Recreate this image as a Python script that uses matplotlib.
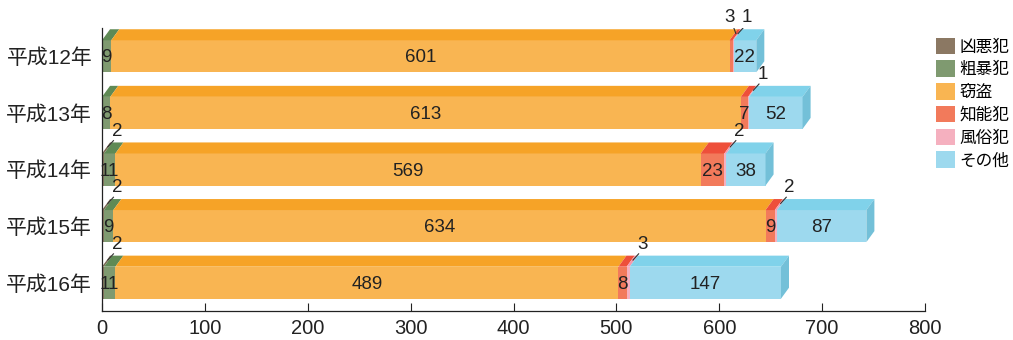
import matplotlib
matplotlib.use("Agg")
import matplotlib.pyplot as plt
from matplotlib.patches import Polygon, Patch

plt.rcParams['font.family'] = ['Liberation Sans', 'Noto Sans CJK JP']

# data
years = ['平成12年', '平成13年', '平成14年', '平成15年', '平成16年']
crimes = ['凶悪犯', '粗暴犯', '窃盗', '知能犯', '風俗犯', 'その他']
kyoaku = [0, 0, 2, 2, 2]
sobo = [9, 8, 11, 9, 11]
settou = [601, 613, 569, 634, 489]
chino = [3, 7, 23, 9, 8]
fuzoku = [1, 1, 2, 2, 3]
sonota = [22, 52, 38, 87, 147]
series = [kyoaku, sobo, settou, chino, fuzoku, sonota]

front_cols = ['#8b7863', '#7f9a70', '#f9b552', '#f27a5b', '#f5b0bf', '#9dd9ee']
top_cols = ['#7a6a55', '#5f8a55', '#f6a327', '#ee4f3a', '#f39aae', '#80d2ea']
side_col = '#73c0d8'

# 3d look
h = 0.566
dx = 7.8
dy = 0.195

fig = plt.figure(figsize=(10.13, 3.4), dpi=100)
ax = fig.add_axes([102 / 1013, 1 - 311 / 340, 823 / 1013, 283 / 340])

lefts = [0] * len(years)
for k, vals in enumerate(series):
    ax.barh(range(len(years)), vals, left=lefts, height=h,
            color=front_cols[k], linewidth=0, zorder=2)
    for i, v in enumerate(vals):
        if v == 0:
            continue
        l, r = lefts[i], lefts[i] + v
        yt = i - h / 2
        ax.add_patch(Polygon([(l, yt), (r, yt), (r + dx, yt - dy), (l + dx, yt - dy)],
                             closed=True, facecolor=top_cols[k], linewidth=0, zorder=2))
        xc = (l + r) / 2
        if v >= 7:
            ax.text(xc, i + 0.03, str(v), ha='center', va='center',
                    fontsize=13.5, color='#222222', zorder=4)
        else:
            # small value: label above with leader line
            off = 13.5
            if crimes[k] == '知能犯':
                off = -1.5
            tx, ty = xc + off, i - 0.68
            ax.plot([xc + dx * 0.6, tx - off * 0.25 if off > 0 else tx + 4],
                    [yt - dy * 0.6, ty + 0.17], color='#333333', lw=0.8, zorder=5)
            ax.text(tx, ty, str(v), ha='center', va='center',
                    fontsize=13.5, color='#222222', zorder=5)
    lefts = [a + b for a, b in zip(lefts, vals)]

# right side of each bar
for i, R in enumerate(lefts):
    yt = i - h / 2
    ax.add_patch(Polygon([(R, yt), (R + dx, yt - dy), (R + dx, i + h / 2 - dy), (R, i + h / 2)],
                         closed=True, facecolor=side_col, linewidth=0, zorder=2))

ax.set_xlim(0, 800)
ax.set_ylim(4.5, -0.5)
ax.set_xticks(range(0, 801, 100))
ax.set_yticks(range(len(years)))
ax.set_yticklabels(years, fontsize=15, color='#222222')
ax.tick_params(axis='y', length=0, pad=7)
ax.tick_params(axis='x', direction='in', length=6, width=0.8, labelsize=14.5,
               colors='#222222', pad=6)
for s in ['top', 'right']:
    ax.spines[s].set_visible(False)
for s in ['left', 'bottom']:
    ax.spines[s].set_linewidth(0.9)
    ax.spines[s].set_color('#222222')
    ax.spines[s].set_zorder(6)

handles = [Patch(facecolor=c, edgecolor='none') for c in front_cols]
fig.legend(handles, crimes, loc='upper left', bbox_to_anchor=(929 / 1013, 1 - 31 / 340),
           frameon=False, fontsize=12, handlelength=1.15, handleheight=1.15,
           handletextpad=0.25, labelspacing=0.35, borderaxespad=0)

fig.savefig('out.png', dpi=100)
